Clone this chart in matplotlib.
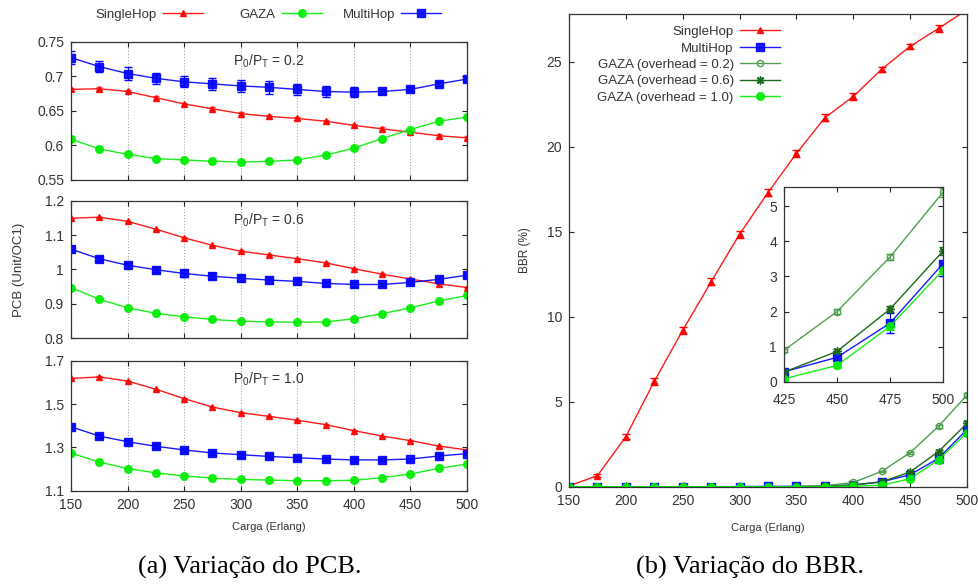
import numpy as np
import matplotlib
matplotlib.use("Agg")
import matplotlib.pyplot as plt
from matplotlib.lines import Line2D

plt.rcParams['font.family'] = ['Liberation Sans', 'DejaVu Sans']
plt.rcParams['mathtext.fontset'] = 'custom'
plt.rcParams['mathtext.rm'] = 'Liberation Sans'
plt.rcParams['mathtext.it'] = 'Liberation Sans:italic'
TXT = '#333333'

# ---------------- data ----------------
carga = [150, 175, 200, 225, 250, 275, 300, 325, 350, 375, 400, 425, 450, 475, 500]

# PCB, P0/PT = 0.2
pcb02_single = [0.681, 0.682, 0.678, 0.669, 0.660, 0.653, 0.646, 0.642, 0.639, 0.635, 0.629, 0.624, 0.619, 0.614, 0.611]
pcb02_gaza = [0.609, 0.595, 0.587, 0.581, 0.579, 0.577, 0.576, 0.577, 0.579, 0.586, 0.596, 0.610, 0.623, 0.635, 0.641]
pcb02_multi = [0.727, 0.714, 0.704, 0.697, 0.692, 0.689, 0.686, 0.684, 0.681, 0.678, 0.677, 0.678, 0.681, 0.689, 0.696]
pcb02_multi_err = [0.009, 0.0085, 0.009, 0.008, 0.008, 0.0085, 0.009, 0.009, 0.008, 0.0077, 0.007, 0.004, 0.003, 0.003, 0.003]

# PCB, P0/PT = 0.6
pcb06_single = [1.149, 1.152, 1.140, 1.117, 1.092, 1.070, 1.053, 1.042, 1.031, 1.019, 1.002, 0.986, 0.972, 0.958, 0.947]
pcb06_gaza = [0.947, 0.913, 0.888, 0.872, 0.862, 0.854, 0.849, 0.847, 0.846, 0.847, 0.856, 0.871, 0.888, 0.908, 0.924]
pcb06_multi = [1.059, 1.031, 1.012, 0.999, 0.988, 0.980, 0.974, 0.969, 0.965, 0.959, 0.956, 0.956, 0.962, 0.971, 0.983]
pcb06_multi_err = [0.008, 0.007, 0.008, 0.008, 0.009, 0.008, 0.009, 0.009, 0.008, 0.006, 0.006, 0.005, 0.005, 0.006, 0.006]

# PCB, P0/PT = 1.0
pcb10_single = [1.618, 1.625, 1.606, 1.568, 1.525, 1.486, 1.460, 1.443, 1.425, 1.405, 1.377, 1.352, 1.331, 1.306, 1.288]
pcb10_gaza = [1.274, 1.232, 1.202, 1.182, 1.168, 1.158, 1.152, 1.149, 1.146, 1.146, 1.148, 1.160, 1.177, 1.203, 1.223]
pcb10_multi = [1.395, 1.352, 1.326, 1.305, 1.288, 1.274, 1.266, 1.258, 1.252, 1.246, 1.242, 1.242, 1.246, 1.260, 1.271]
pcb10_multi_err = [0.010, 0.009, 0.010, 0.009, 0.009, 0.009, 0.009, 0.009, 0.009, 0.008, 0.008, 0.007, 0.007, 0.008, 0.008]

pcb_small_err = [0.002] * 15

# BBR (%)
bbr_single = [0.05, 0.65, 2.94, 6.2, 9.2, 12.05, 14.85, 17.3, 19.6, 21.7, 22.95, 24.55, 25.9, 26.95, 28.05]
bbr_single_err = [0.05, 0.1, 0.15, 0.2, 0.2, 0.2, 0.2, 0.2, 0.2, 0.2, 0.2, 0.15, 0.15, 0.2, 0.2]
bbr_multi = [0.0, 0.0, 0.0, 0.0, 0.0, 0.0, 0.01, 0.02, 0.02, 0.03, 0.10, 0.29, 0.70, 1.67, 3.36]
bbr_multi_err = [0, 0, 0, 0, 0, 0, 0, 0.01, 0.01, 0.02, 0.04, 0.06, 0.1, 0.28, 0.36]
bbr_gaza02 = [0.0, 0.0, 0.0, 0.0, 0.0, 0.0, 0.0, 0.0, 0.01, 0.05, 0.25, 0.90, 2.00, 3.55, 5.39]
bbr_gaza06 = [0.0, 0.0, 0.0, 0.0, 0.0, 0.0, 0.0, 0.0, 0.0, 0.02, 0.10, 0.28, 0.87, 2.07, 3.72]
bbr_gaza10 = [0.0, 0.0, 0.0, 0.0, 0.0, 0.0, 0.0, 0.0, 0.0, 0.01, 0.03, 0.09, 0.47, 1.58, 3.18]
bbr_gaza_err = [0, 0, 0, 0, 0, 0, 0, 0, 0, 0.01, 0.02, 0.05, 0.07, 0.09, 0.12]

xticks = [150, 200, 250, 300, 350, 400, 450, 500]
pcb_ratios = ['0.2', '0.6', '1.0']
captions = ['(a) Variação do PCB.', '(b) Variação do BBR.']

RED = '#ff0000'
BLUE = '#0000ff'
LGREEN = '#00ee00'
MGREEN = '#4f9f4f'
DGREEN = '#1a6b1a'

fig = plt.figure(figsize=(9.79, 5.84), dpi=100)

def style_ax(ax, fs=10, xpad=5, ypad=5):
    ax.tick_params(direction='in', length=3.5, width=0.8, top=True, right=True,
                   labelsize=fs, colors='#222222', labelcolor=TXT)
    ax.tick_params(axis='x', pad=xpad)
    ax.tick_params(axis='y', pad=ypad)
    for s in ax.spines.values():
        s.set_color('#333333')
        s.set_linewidth(0.9)

# ---------------- left panels ----------------
left_specs = [
    ((0.0725, 0.6918, 0.4045, 0.2368), pcb02_single, pcb02_gaza, pcb02_multi, pcb02_multi_err, (0.55, 0.75), [0.55, 0.6, 0.65, 0.7, 0.75], ['0.55', '0.6', '0.65', '0.7', '0.75']),
    ((0.0725, 0.4212, 0.4045, 0.2351), pcb06_single, pcb06_gaza, pcb06_multi, pcb06_multi_err, (0.8, 1.2), [0.8, 0.9, 1.0, 1.1, 1.2], ['0.8', '0.9', '1', '1.1', '1.2']),
    ((0.0725, 0.1598, 0.4045, 0.2226), pcb10_single, pcb10_gaza, pcb10_multi, pcb10_multi_err, (1.1, 1.7), [1.1, 1.3, 1.5, 1.7], ['1.1', '1.3', '1.5', '1.7']),
]
handles_left = None
for i, (pos, sh, gz, mh, mherr, ylim, yt, ytl) in enumerate(left_specs):
    ax = fig.add_axes(pos)
    ax.errorbar(carga, sh, yerr=pcb_small_err, fmt='none', ecolor=RED, elinewidth=0.8, capsize=2.5, alpha=0.7)
    ax.errorbar(carga, gz, yerr=pcb_small_err, fmt='none', ecolor=LGREEN, elinewidth=0.8, capsize=2.5, alpha=0.7)
    ax.errorbar(carga, mh, yerr=mherr, fmt='none', ecolor=BLUE, elinewidth=0.9, capsize=3)
    l1, = ax.plot(carga, sh, color=RED, lw=1.0, marker='^', ms=5, alpha=0.9, label='SingleHop')
    l2, = ax.plot(carga, gz, color=LGREEN, lw=1.0, marker='o', ms=5.5, alpha=0.9, label='GAZA')
    l3, = ax.plot(carga, mh, color=BLUE, lw=1.0, marker='s', ms=5.5, alpha=0.9, label='MultiHop')
    if handles_left is None:
        handles_left = [l1, l2, l3]
    ax.set_xlim(150, 500)
    ax.set_ylim(*ylim)
    ax.set_xticks(xticks)
    ax.set_yticks(yt)
    ax.set_yticklabels(ytl)
    ax.grid(axis='x', linestyle=(0, (1, 2)), color='#999999', linewidth=0.7)
    style_ax(ax)
    if i < 2:
        ax.set_xticklabels([])
    ax.text(0.5, 0.86, r'$\mathrm{P_0/P_T}$ = ' + pcb_ratios[i], transform=ax.transAxes,
            ha='center', va='center', fontsize=10, color=TXT)

fig.text(0.019, 1 - 270 / 584, 'PCB (Unit/OC1)', rotation=90, ha='center', va='center', fontsize=9.5, color=TXT)
fig.text(0.275, 1 - 527 / 584, 'Carga (Erlang)', ha='center', va='center', fontsize=8, color=TXT)
# gnuplot-style key: fixed-width columns with right-aligned text
for h, xr in zip(handles_left, [203, 322, 441]):
    fig.legend(handles=[h], loc='center right', bbox_to_anchor=(xr / 979, 1 - 15 / 584),
               markerfirst=False, frameon=False, fontsize=9.5, handlelength=3.0, handletextpad=0.5,
               borderpad=0, borderaxespad=0, labelcolor=TXT)

# ---------------- right panel ----------------
axr = fig.add_axes((0.5812, 0.1666, 0.4065, 0.8094))

def draw_bbr(ax, ms_scale=1.0):
    ax.errorbar(carga, bbr_single, yerr=bbr_single_err, fmt='none', ecolor=RED, elinewidth=0.8, capsize=3)
    ax.errorbar(carga, bbr_multi, yerr=bbr_multi_err, fmt='none', ecolor=BLUE, elinewidth=0.8, capsize=3)
    ax.errorbar(carga, bbr_gaza02, yerr=bbr_gaza_err, fmt='none', ecolor=MGREEN, elinewidth=0.8, capsize=3)
    ax.errorbar(carga, bbr_gaza06, yerr=bbr_gaza_err, fmt='none', ecolor=DGREEN, elinewidth=0.8, capsize=3)
    ax.errorbar(carga, bbr_gaza10, yerr=bbr_gaza_err, fmt='none', ecolor=LGREEN, elinewidth=0.8, capsize=3)
    h1, = ax.plot(carga, bbr_single, color=RED, lw=1.0, marker='^', ms=5 * ms_scale, alpha=0.9, label='SingleHop')
    h2, = ax.plot(carga, bbr_multi, color=BLUE, lw=1.0, marker='s', ms=5.5 * ms_scale, alpha=0.9, label='MultiHop')
    h3, = ax.plot(carga, bbr_gaza02, color=MGREEN, lw=1.0, marker='o', ms=4.5 * ms_scale, mfc='none', mew=1.0, label='GAZA (overhead = 0.2)')
    h4, = ax.plot(carga, bbr_gaza06, color=DGREEN, lw=1.0, marker=(8, 2, 0), ms=6 * ms_scale, mew=1.0, label='GAZA (overhead = 0.6)')
    h5, = ax.plot(carga, bbr_gaza10, color=LGREEN, lw=1.0, marker='o', ms=5.5 * ms_scale, alpha=0.9, label='GAZA (overhead = 1.0)')
    return [h1, h2, h3, h4, h5]

hr = draw_bbr(axr)
axr.set_xlim(150, 500)
axr.set_ylim(0, 27.8)
axr.set_xticks(xticks)
axr.set_yticks([0, 5, 10, 15, 20, 25])
style_ax(axr)
axr.set_ylabel('BBR (%)', fontsize=8.5, color=TXT, labelpad=11)
axr.set_xlabel('Carga (Erlang)', fontsize=8, color=TXT, labelpad=11)
axr.legend(handles=hr, loc='upper right', bbox_to_anchor=(0.53, 0.975), markerfirst=False,
           frameon=False, fontsize=9.5, handlelength=3.0, handletextpad=0.5, labelspacing=0.32,
           borderaxespad=0, borderpad=0, labelcolor=TXT)

# inset
axi = fig.add_axes((0.8008, 0.3459, 0.1624, 0.3339))
axi.set_facecolor('white')
draw_bbr(axi)
axi.set_xlim(425, 500)
axi.set_ylim(0, 5.54)
axi.set_xticks([425, 450, 475, 500])
axi.set_yticks([0, 1, 2, 3, 4, 5])
style_ax(axi, xpad=8, ypad=5)

# captions
fig.text(250 / 979, 1 - 567 / 584, captions[0], ha='center', va='center', fontsize=19,
         family=['Liberation Serif', 'DejaVu Serif'], color='black')
fig.text(750 / 979, 1 - 567 / 584, captions[1], ha='center', va='center', fontsize=19,
         family=['Liberation Serif', 'DejaVu Serif'], color='black')

fig.savefig('out.png', dpi=100)
